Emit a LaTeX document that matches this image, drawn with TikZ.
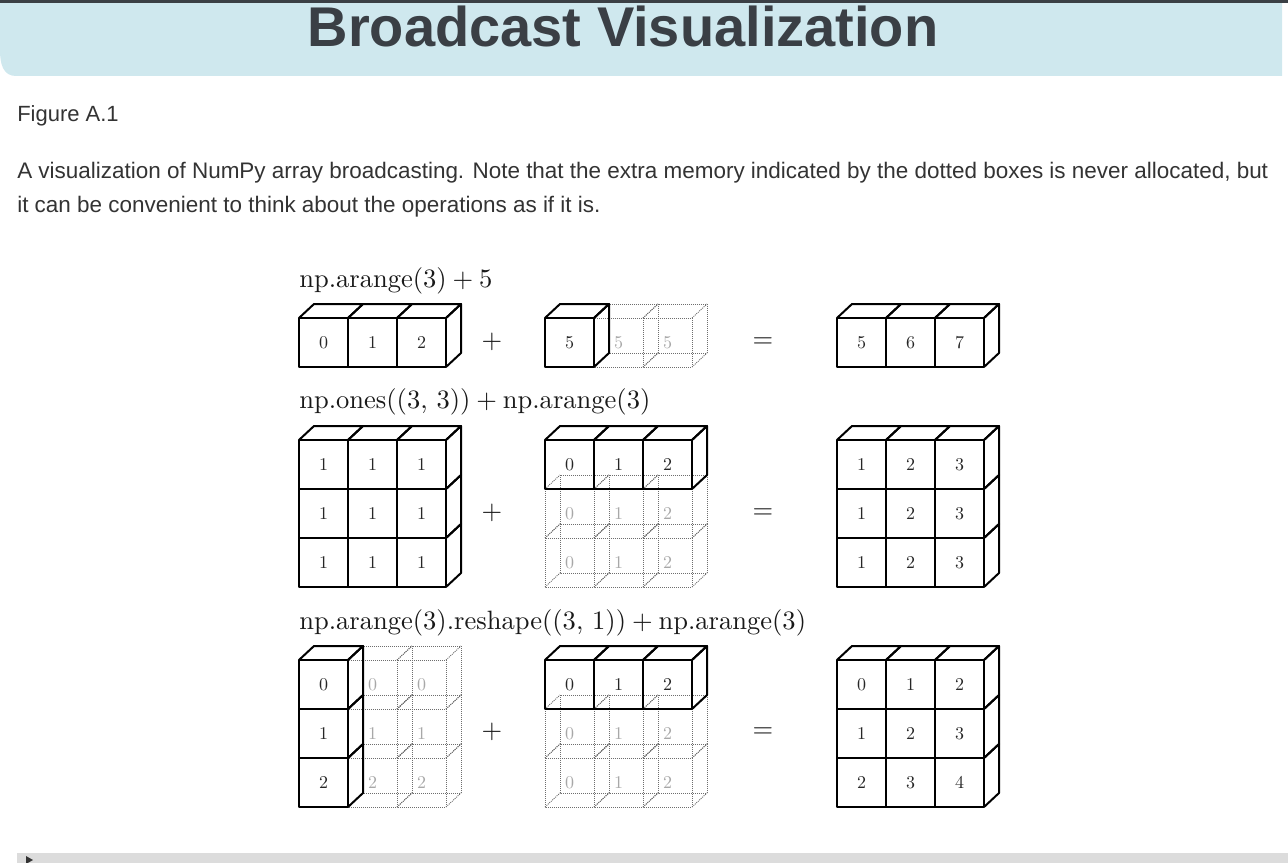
\documentclass[tikz,border=0pt]{standalone}
\usepackage{fontspec}
\newfontfamily\arial{Liberation Sans}
\newfontfamily\lmten{lmroman10-regular}[Extension=.otf]
\definecolor{titlebg}{HTML}{CFE8EE}
\definecolor{darkbar}{HTML}{3B4045}
\definecolor{titletext}{HTML}{3A3F45}
\definecolor{bodytext}{HTML}{333333}
\definecolor{dotgray}{HTML}{6E6E6E}
\definecolor{lightnum}{HTML}{A8A8A8}
\definecolor{barbg}{HTML}{DCDCDC}
\newcommand{\plusop}{\hspace{0.222em}+\hspace{0.222em}}
\tikzset{
  solidedge/.style={line width=1.5pt, black, line join=round},
  dotedge/.style={line width=0.65pt, dotgray, dash pattern=on 0.75pt off 0.75pt},
  cubenum/.style={font=\lmten\fontsize{13.5}{16}\selectfont, text=black!85, inner sep=0pt},
  ghostnum/.style={font=\lmten\fontsize{13.5}{16}\selectfont, text=lightnum, inner sep=0pt},
  rowlabel/.style={anchor=base west, inner sep=0pt, text=black!90, font=\lmten\fontsize{19.9}{24}\selectfont},
  opsign/.style={inner sep=0pt, text=black!90, font=\lmten\fontsize{19.9}{24}\selectfont},
  bodyline/.style={anchor=base west, inner sep=0pt, text=bodytext, font=\arial\fontsize{16.85}{20}\selectfont},
}
\newcommand{\sblock}[4]{% x, y, ncols, nrows
  \foreach \i in {1,...,#3}{\foreach \j in {1,...,#4}{
    \draw[solidedge] ({#1+(\i-1)*49},{#2+(\j-1)*49}) rectangle ++(49,49);}}
  \foreach \i in {1,...,#3}{
    \draw[solidedge] ({#1+(\i-1)*49},#2) -- ++(15,-14) -- ++(49,0) -- ++(-15,14);}
  \foreach \j in {1,...,#4}{
    \draw[solidedge] ({#1+#3*49},{#2+(\j-1)*49}) -- ++(15,-14) -- ++(0,49) -- ++(-15,14);}
}
\newcommand{\dcube}[2]{% x, y
  \draw[dotedge] (#1,#2) rectangle ++(49,49);
  \draw[dotedge] ({#1+15},{#2-14}) rectangle ++(49,49);
  \draw[dotedge] (#1,#2) -- ++(15,-14);
  \draw[dotedge] ({#1+49},#2) -- ++(15,-14);
  \draw[dotedge] ({#1+49},{#2+49}) -- ++(15,-14);
  \draw[dotedge] (#1,{#2+49}) -- ++(15,-14);
}
\newcommand{\nums}[5]{% prefix, x, y, style, list c/r/v
  \foreach \c/\r/\v in {#5}{
    \node[#4] (#1-\c-\r) at ({#2+(\c-0.5)*49},{#3+(\r-0.5)*49}) {\v};}
}
\begin{document}
\begin{tikzpicture}[x=0.75pt,y=-0.75pt]
\useasboundingbox (0,0) rectangle (1288,863);
% header
\fill[titlebg] (0,3) -- (1282,3) -- (1282,76) -- (16,76) .. controls (3,76) and (0,64) .. (0,50) -- cycle;
\fill[darkbar] (0,0) rectangle (1288,3);
\node[anchor=base, inner sep=0pt, text=titletext, font=\arial\bfseries\fontsize{42}{50}\selectfont] (title) at (623,47) {Broadcast Visualization};
\node[bodyline, font=\arial\fontsize{16.5}{20}\selectfont] (fig) at (17,122) {Figure A.1};
\node[bodyline] (cap1) at (17,179) {A visualization of NumPy array broadcasting. Note that the extra memory indicated by the dotted boxes is never allocated, but};
\node[bodyline] (cap2) at (17,212) {it can be convenient to think about the operations as if it is.};
% bottom bar
\fill[barbg] (17,853) rectangle (1288,863);
\fill[bodytext] (26,856) -- (33,860) -- (26,864) -- cycle;

% ---------- row 1 ----------
\node[rowlabel] (l1) at (299,287) {np.arange(3)\plusop5};
\sblock{299}{318}{3}{1}
\nums{a}{299}{318}{cubenum}{1/1/0,2/1/1,3/1/2}
\node[opsign] (p1) at (492,342) {+};
\dcube{594}{318}\dcube{643}{318}
\sblock{545}{318}{1}{1}
\nums{b}{545}{318}{cubenum}{1/1/5}
\nums{bg}{545}{318}{ghostnum}{2/1/5,3/1/5}
\node[opsign] (e1) at (763,343) {=};
\sblock{837}{318}{3}{1}
\nums{c}{837}{318}{cubenum}{1/1/5,2/1/6,3/1/7}

% ---------- row 2 ----------
\node[rowlabel] (l2) at (299,408) {np.ones((3, 3))\plusop np.arange(3)};
\sblock{299}{440}{3}{3}
\nums{d}{299}{440}{cubenum}{1/1/1,2/1/1,3/1/1,1/2/1,2/2/1,3/2/1,1/3/1,2/3/1,3/3/1}
\node[opsign] (p2) at (492,513) {+};
\foreach \c in {0,1,2}{\foreach \r in {1,2}{\dcube{545+\c*49}{440+\r*49}}}
\sblock{545}{440}{3}{1}
\nums{f}{545}{440}{cubenum}{1/1/0,2/1/1,3/1/2}
\nums{fg}{545}{440}{ghostnum}{1/2/0,2/2/1,3/2/2,1/3/0,2/3/1,3/3/2}
\node[opsign] (e2) at (763,514) {=};
\sblock{837}{440}{3}{3}
\nums{g}{837}{440}{cubenum}{1/1/1,2/1/2,3/1/3,1/2/1,2/2/2,3/2/3,1/3/1,2/3/2,3/3/3}

% ---------- row 3 ----------
\node[rowlabel] (l3) at (299,629) {np.arange(3).reshape((3, 1))\plusop np.arange(3)};
\foreach \c in {1,2}{\foreach \r in {0,1,2}{\dcube{299+\c*49}{660+\r*49}}}
\sblock{299}{660}{1}{3}
\nums{h}{299}{660}{cubenum}{1/1/0,1/2/1,1/3/2}
\nums{hg}{299}{660}{ghostnum}{2/1/0,3/1/0,2/2/1,3/2/1,2/3/2,3/3/2}
\node[opsign] (p3) at (492,732) {+};
\foreach \c in {0,1,2}{\foreach \r in {1,2}{\dcube{545+\c*49}{660+\r*49}}}
\sblock{545}{660}{3}{1}
\nums{k}{545}{660}{cubenum}{1/1/0,2/1/1,3/1/2}
\nums{kg}{545}{660}{ghostnum}{1/2/0,2/2/1,3/2/2,1/3/0,2/3/1,3/3/2}
\node[opsign] (e3) at (763,733) {=};
\sblock{837}{660}{3}{3}
\nums{m}{837}{660}{cubenum}{1/1/0,2/1/1,3/1/2,1/2/1,2/2/2,3/2/3,1/3/2,2/3/3,3/3/4}
\end{tikzpicture}
\end{document}
